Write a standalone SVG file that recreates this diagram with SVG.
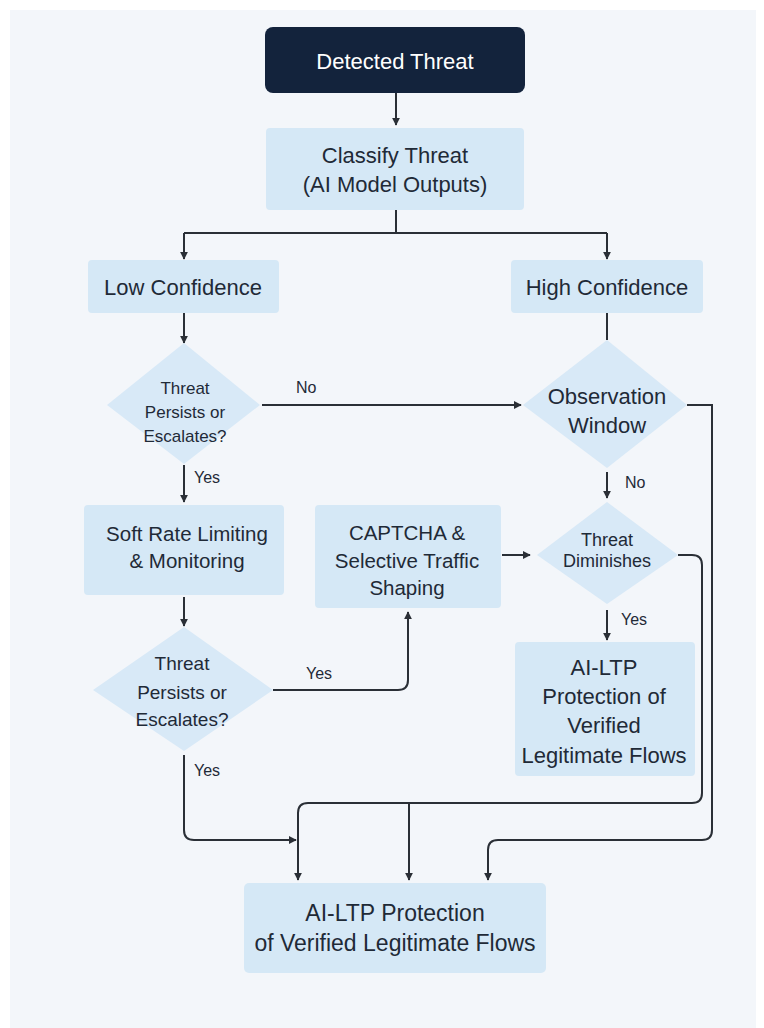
<svg xmlns="http://www.w3.org/2000/svg" width="764" height="1028" viewBox="0 0 764 1028">
<style>
.box{fill:#d5e8f6;}
.dia{fill:#d8e9f7;}
.t{font-family:"Liberation Sans",Arial,sans-serif;fill:#1f2a37;text-anchor:middle;dominant-baseline:central;}
.lbl{font-family:"Liberation Sans",Arial,sans-serif;fill:#1f2a37;font-size:16px;dominant-baseline:central;}
.ln{fill:none;stroke:#2a2f36;stroke-width:2;}
</style>
<defs>
<marker id="ah" viewBox="0 0 10 10" refX="9" refY="5" markerWidth="8" markerHeight="8" markerUnits="userSpaceOnUse" orient="auto">
<path d="M0,0 L10,5 L0,10 z" fill="#2a2f36"/>
</marker>
</defs>
<rect x="0" y="0" width="764" height="1028" fill="#ffffff"/>
<rect x="10" y="10" width="746" height="1018" fill="#f3f6fa"/>

<g id="connectors">
<path class="ln" d="M396,93 V125" marker-end="url(#ah)"/>
<path class="ln" d="M396,210 V233 M184,233 H607"/>
<path class="ln" d="M184,233 V259" marker-end="url(#ah)"/>
<path class="ln" d="M607,233 V259" marker-end="url(#ah)"/>
<path class="ln" d="M184,313 V343" marker-end="url(#ah)"/>
<path class="ln" d="M607,313 V340"/>
<path class="ln" d="M262,405 H521" marker-end="url(#ah)"/>
<path class="ln" d="M184,465 V502" marker-end="url(#ah)"/>
<path class="ln" d="M607,472 V498" marker-end="url(#ah)"/>
<path class="ln" d="M502,555 H530" marker-end="url(#ah)"/>
<path class="ln" d="M607,610 V640" marker-end="url(#ah)"/>
<path class="ln" d="M184,597 V626" marker-end="url(#ah)"/>
<path class="ln" d="M273,690 H398 Q408,690 408,680 V612" marker-end="url(#ah)"/>
<path class="ln" d="M184,755 V830 Q184,840 194,840 H296" marker-end="url(#ah)"/>
<path class="ln" d="M678,555 H692 Q702,555 702,565 V793 Q702,803 692,803 H308 Q298,803 298,813 V880" marker-end="url(#ah)"/>
<path class="ln" d="M409,803 V880" marker-end="url(#ah)"/>
<path class="ln" d="M687,405 H712 V830 Q712,840 702,840 H498 Q488,840 488,850 V880" marker-end="url(#ah)"/>
</g>

<g id="labels">
<text class="lbl" x="296" y="387">No</text>
<text class="lbl" x="194" y="477">Yes</text>
<text class="lbl" x="625" y="482">No</text>
<text class="lbl" x="621" y="619">Yes</text>
<text class="lbl" x="306" y="673">Yes</text>
<text class="lbl" x="194" y="770">Yes</text>
</g>

<g id="detected">
<rect x="265" y="27" width="260" height="66" rx="8" fill="#13233c"/>
<text class="t" x="395" y="61" font-size="22" fill="#ffffff" style="fill:#ffffff">Detected Threat</text>
</g>
<g id="classify">
<rect class="box" x="266" y="128" width="258" height="82" rx="4"/>
<text class="t" x="395" y="155" font-size="22">Classify Threat</text>
<text class="t" x="395" y="184" font-size="22">(AI Model Outputs)</text>
</g>
<g id="low">
<rect class="box" x="88" y="260" width="191" height="53" rx="4"/>
<text class="t" x="183" y="287" font-size="22">Low Confidence</text>
</g>
<g id="high">
<rect class="box" x="511" y="260" width="192" height="53" rx="4"/>
<text class="t" x="607" y="287" font-size="22">High Confidence</text>
</g>
<g id="persists1">
<polygon class="dia" points="184,343 260,405 184,464 107,405"/>
<text class="t" x="185" y="388" font-size="17">Threat</text>
<text class="t" x="185" y="412" font-size="17">Persists or</text>
<text class="t" x="185" y="436" font-size="17">Escalates?</text>
</g>
<g id="observation">
<polygon class="dia" points="607,340 687,405 607,468 523,405"/>
<text class="t" x="607" y="396" font-size="22">Observation</text>
<text class="t" x="607" y="425" font-size="22">Window</text>
</g>
<g id="soft">
<rect class="box" x="84" y="505" width="200" height="90" rx="4"/>
<text class="t" x="187" y="533" font-size="20.5">Soft Rate Limiting</text>
<text class="t" x="187" y="560" font-size="20.5">&amp; Monitoring</text>
</g>
<g id="captcha">
<rect class="box" x="315" y="505" width="186" height="103" rx="4"/>
<text class="t" x="407" y="532" font-size="20.5">CAPTCHA &amp;</text>
<text class="t" x="407" y="560" font-size="20.5">Selective Traffic</text>
<text class="t" x="407" y="587" font-size="20.5">Shaping</text>
</g>
<g id="diminishes">
<polygon class="dia" points="607,502 678,555 607,604 537,555"/>
<text class="t" x="607" y="540" font-size="18">Threat</text>
<text class="t" x="607" y="561" font-size="18">Diminishes</text>
</g>
<g id="persists2">
<polygon class="dia" points="184,627 273,690 184,751 93,690"/>
<text class="t" x="182" y="663" font-size="19">Threat</text>
<text class="t" x="182" y="692" font-size="19">Persists or</text>
<text class="t" x="182" y="719" font-size="19">Escalates?</text>
</g>
<g id="aitp-right">
<rect class="box" x="515" y="642" width="180" height="134" rx="4"/>
<text class="t" x="604" y="667" font-size="22">AI-LTP</text>
<text class="t" x="604" y="696" font-size="22">Protection of</text>
<text class="t" x="604" y="725" font-size="22">Verified</text>
<text class="t" x="604" y="755" font-size="22">Legitimate Flows</text>
</g>
<g id="aitp-bottom">
<rect class="box" x="244" y="883" width="302" height="90" rx="5"/>
<text class="t" x="395" y="913" font-size="23">AI-LTP Protection</text>
<text class="t" x="395" y="943" font-size="23">of Verified Legitimate Flows</text>
</g>
</svg>
